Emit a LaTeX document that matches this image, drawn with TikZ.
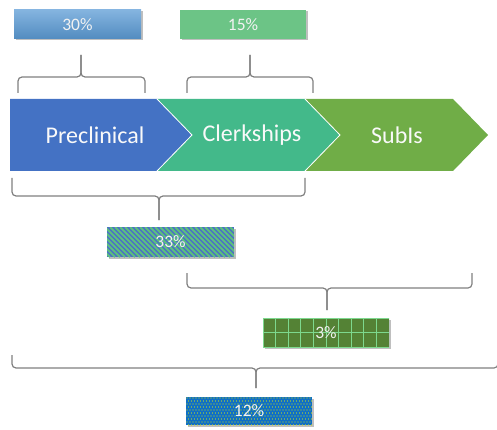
\documentclass[tikz,border=0pt]{standalone}
\usepackage{fontspec}
\setmainfont{Carlito}
\usetikzlibrary{patterns}
\definecolor{preC}{HTML}{4472C4}
\definecolor{clkC}{HTML}{43B98A}
\definecolor{subC}{HTML}{70AD47}
\definecolor{brC}{HTML}{808080}
\definecolor{boxA}{HTML}{5B9BD5}
\definecolor{boxB}{HTML}{6CC486}
\definecolor{stripeB}{HTML}{4A6FC8}
\definecolor{stripeG}{HTML}{5CBF7F}
\definecolor{gridD}{HTML}{548235}
\definecolor{gridL}{HTML}{7DD88E}
\definecolor{dotB}{HTML}{0F6FC6}
\tikzset{
  chev/.style={draw=white, line width=0.8pt, line join=miter},
  chevtext/.style={text=white!95!gray, font=\fontsize{24}{26}\selectfont, inner sep=0pt},
  brace/.style={draw=brC, line width=1.2pt, rounded corners=4pt},
  pctbox/.style={minimum width=127pt, minimum height=29pt, inner sep=0pt, text=white!90!gray, font=\fontsize{17.5}{19}\selectfont},
  shadowbox/.style={fill=black!25}
}
\begin{document}
\begin{tikzpicture}[x=1pt,y=-1pt]
\useasboundingbox (0,0) rectangle (497,430);
% chevrons
\fill[preC] (10,99) -- (157,99) -- (192,135) -- (157,171) -- (10,171) -- cycle;
\fill[clkC] (157,99) -- (305,99) -- (340,135) -- (305,171) -- (157,171) -- (192,135) -- cycle;
\fill[subC] (305,99) -- (453,99) -- (488,135) -- (453,171) -- (305,171) -- (340,135) -- cycle;
\draw[chev] (157,99) -- (192,135) -- (157,171);
\draw[chev] (305,99) -- (340,135) -- (305,171);
\node[chevtext] (pre) at (95,135) {Preclinical};
\node[chevtext] (clk) at (252,135) {Clerkships};
\node[chevtext] (sub) at (397,135) {SubIs};
% top boxes
\fill[shadowbox] (15.5,11.5) rectangle (142.5,40.5);
\shade[top color=boxA!75!white, bottom color=boxA!90!black] (14,10) rectangle (141,39);
\node[pctbox] (p30) at (77.5,24.5) {30\%};
\fill[shadowbox] (181.5,11.5) rectangle (307.5,40.5);
\fill[boxB] (180,10) rectangle (306,39);
\node[pctbox] (p15) at (243,24.5) {15\%};
% top braces
\coordinate (s30) at (81,55);
\coordinate (s15) at (250,55);
\draw[brace] (18,93) -- (18,77) -- (81,77) -- (s30);
\draw[brace] (145,93) -- (145,77) -- (81,77) -- (s30);
\draw[brace] (187,93) -- (187,77) -- (250,77) -- (s15);
\draw[brace] (313,93) -- (313,77) -- (250,77) -- (s15);
% brace 33
\coordinate (s33) at (159,220);
\draw[brace] (12,178) -- (12,196) -- (159,196) -- (s33);
\draw[brace] (305,178) -- (305,196) -- (159,196) -- (s33);
\fill[shadowbox] (108.5,228.5) rectangle (235.5,258.5);
\fill[stripeB] (107,227) rectangle (234,257);
\begin{scope}
\clip (107,227) rectangle (234,257);
\foreach \i in {-40,-35,...,240} {
  \draw[stripeG, line width=2pt] (\i,227) -- (\i+30,257);
}
\end{scope}
\node[pctbox, minimum height=30pt] (p33) at (170.5,242) {33\%};
% brace 3
\coordinate (s3) at (327,310);
\draw[brace] (187,273) -- (187,288) -- (327,288) -- (s3);
\draw[brace] (472,273) -- (472,288) -- (327,288) -- (s3);
\fill[shadowbox] (264.5,319.5) rectangle (390.5,348.5);
\fill[gridD] (263,318) rectangle (389,347);
\begin{scope}
\clip (263,318) rectangle (389,347);
\foreach \i in {0,...,10} {
  \draw[gridL, line width=0.9pt] ({263+\i*12.6},318) -- ({263+\i*12.6},347);
}
\foreach \j in {0,1,2} {
  \draw[gridL, line width=0.9pt] (263,{318+\j*14.5}) -- (389,{318+\j*14.5});
}
\end{scope}
\node[pctbox] (p3) at (326,332.5) {3\%};
% brace 12
\coordinate (s12) at (256,388);
\draw[brace] (12,355) -- (12,368) -- (256,368) -- (s12);
\draw[brace] (498,355) -- (498,368) -- (256,368) -- (s12);
\fill[shadowbox] (187.5,398.5) rectangle (313.5,426.5);
\fill[dotB] (186,397) rectangle (312,425);
\begin{scope}
\clip (186,397) rectangle (312,425);
\foreach \i in {0,...,42} {
  \foreach \j in {0,...,9} {
    \pgfmathsetmacro{\dx}{187+\i*3+mod(\j,2)*1.5}
    \pgfmathsetmacro{\dy}{398+\j*3}
    \fill[yellow!80!green] (\dx,\dy) circle (0.6pt);
  }
}
\end{scope}
\node[pctbox, minimum height=28pt] (p12) at (249,411) {12\%};
\end{tikzpicture}
\end{document}
